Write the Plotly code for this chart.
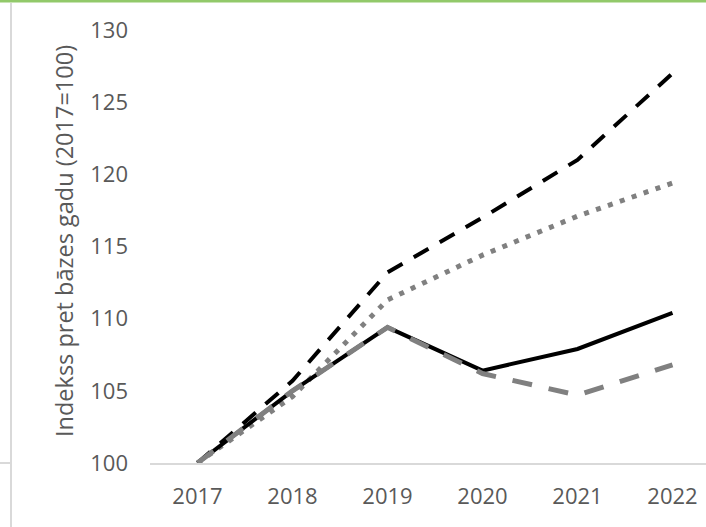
import plotly.graph_objects as go

years = [2017, 2018, 2019, 2020, 2021, 2022]
series_black_dash = [100, 105.7, 113.2, 117.0, 121.0, 127.0]
series_gray_dot = [100, 104.6, 111.3, 114.4, 117.1, 119.4]
series_black_solid = [100, 105.0, 109.4, 106.4, 107.9, 110.4]
series_gray_dash = [100, 105.0, 109.4, 106.2, 104.7, 106.8]
y_ticks = [100, 105, 110, 115, 120, 125, 130]
y_title = "Indekss pret bāzes gadu (2017=100)"

W, H = 706, 527
ML, MR, MT, MB = 150, 0, 30, 64
pw = W - ML - MR
ph = H - MT - MB

def px_x(p):
    return (p - ML) / pw

def px_y(p):
    return (H - MB - p) / ph

fig = go.Figure()
fig.add_trace(go.Scatter(x=years, y=series_black_dash, mode="lines",
                         line=dict(color="#000000", width=4, dash="17px,13px")))
fig.add_trace(go.Scatter(x=years, y=series_gray_dot, mode="lines",
                         line=dict(color="#808080", width=5, dash="5px,7.6px")))
fig.add_trace(go.Scatter(x=years, y=series_black_solid, mode="lines",
                         line=dict(color="#000000", width=4)))
fig.add_trace(go.Scatter(x=years, y=series_gray_dash, mode="lines",
                         line=dict(color="#808080", width=5, dash="20px,17px")))

font = dict(family="Open Sans", size=22, color="#595959")
title_font = dict(family="Open Sans", size=23.5, color="#595959")

fig.update_layout(
    width=W, height=H,
    margin=dict(l=ML, r=MR, t=MT, b=MB, pad=0),
    paper_bgcolor="white", plot_bgcolor="white",
    showlegend=False,
    font=font,
    xaxis=dict(range=[2016.5, 2016.5 + pw / 95.0], tickvals=years,
               ticktext=[str(y) for y in years],
               showgrid=False, zeroline=False, showline=True,
               linecolor="#d9d9d9", linewidth=2, ticks="",
               ticklabelstandoff=13, tickfont=font),
    yaxis=dict(range=[100, 130], tickvals=y_ticks,
               showgrid=False, zeroline=False, showline=False, ticks="",
               ticklabelstandoff=21, tickfont=font),
    annotations=[dict(text=y_title, xref="paper", yref="paper",
                      x=px_x(64), y=px_y(241), xanchor="center", yanchor="middle",
                      textangle=-90, showarrow=False, font=title_font)],
    shapes=[
        dict(type="line", xref="paper", yref="paper", x0=px_x(0), x1=px_x(W),
             y0=px_y(1), y1=px_y(1), line=dict(color="#92c96a", width=3)),
        dict(type="line", xref="paper", yref="paper", x0=px_x(11), x1=px_x(11),
             y0=px_y(3), y1=px_y(H), line=dict(color="#d9d9d9", width=2)),
        dict(type="line", xref="paper", yref="paper", x0=px_x(0), x1=px_x(10),
             y0=px_y(463), y1=px_y(463), line=dict(color="#d9d9d9", width=2)),
    ],
)

fig.write_html("out.html", config={"displayModeBar": False},
               post_script="document.body.style.margin='0';document.body.style.overflow='hidden';")
